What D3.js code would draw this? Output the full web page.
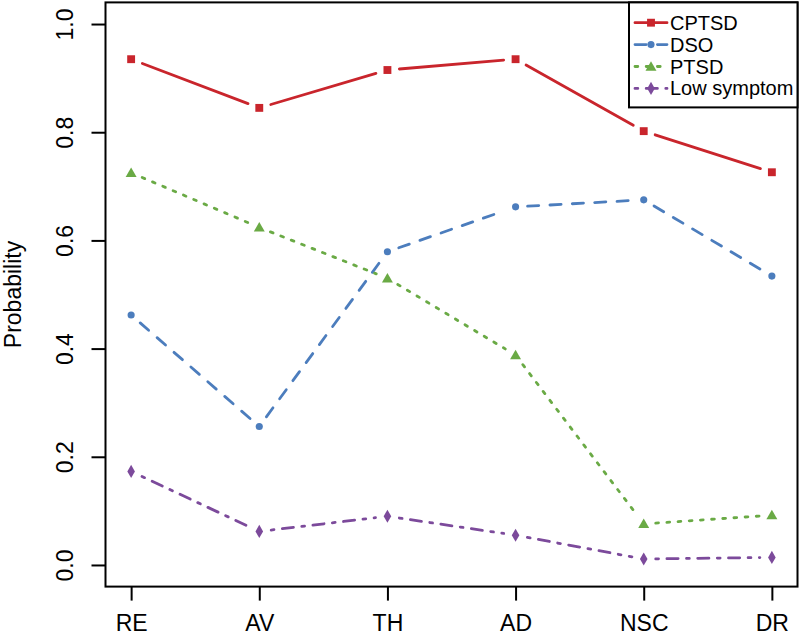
<!DOCTYPE html>
<html>
<head>
<meta charset="utf-8">
<title>Probability profile</title>
<script src="https://cdn.jsdelivr.net/npm/d3@7/dist/d3.min.js"></script>
<style>
  body { margin: 0; background: #fff; }
  svg { display: block; }
  text { font-family: "Liberation Sans", Arial, sans-serif; fill: #000; }
  .axis text { font-size: 23px; }
  .axis line { stroke: #000; stroke-width: 2; }
  .legend text { font-size: 20px; }
</style>
</head>
<body>
<svg id="chart" width="800" height="637"></svg>
<script>
// values
const categories = ["RE", "AV", "TH", "AD", "NSC", "DR"];
const cptsd      = [0.935, 0.845, 0.915, 0.935, 0.802, 0.726];
const dso        = [0.462, 0.256, 0.579, 0.662, 0.675, 0.534];
const ptsd       = [0.725, 0.624, 0.530, 0.388, 0.076, 0.092];
const lowSymptom = [0.173, 0.062, 0.090, 0.055, 0.011, 0.014];
const yTicks     = [0, 0.2, 0.4, 0.6, 0.8, 1.0];
const seriesNames = ["CPTSD", "DSO", "PTSD", "Low symptom"];

const lwd = 2.8;
const series = [
  { name: seriesNames[0], values: cptsd,      color: "#c9252c", dash: null,         shape: "square" },
  { name: seriesNames[1], values: dso,        color: "#4c7dbd", dash: [4, 4],       shape: "circle" },
  { name: seriesNames[2], values: ptsd,       color: "#6aaa45", dash: [1, 3],       shape: "triangle" },
  { name: seriesNames[3], values: lowSymptom, color: "#7c4a9b", dash: [1, 3, 4, 3], shape: "diamond" }
];

const svg = d3.select("#chart");
const plotLeft = 105.5, plotRight = 797.5, plotTop = 2.4, plotBottom = 586.6;

// R style: 4% padding on both axes
const x = d3.scaleLinear().domain([0.8, categories.length + 0.2]).range([plotLeft, plotRight]);
const y = d3.scaleLinear().domain([-0.04, 1.04]).range([plotBottom, plotTop]);

// axes
const yAxis = svg.append("g")
  .attr("class", "axis")
  .attr("transform", `translate(${plotLeft},0)`)
  .call(d3.axisLeft(y).tickValues(yTicks).tickFormat(d3.format(".1f")).tickSize(14));
yAxis.select(".domain").remove();
yAxis.selectAll(".tick text")
  .attr("x", null).attr("dy", null)
  .attr("text-anchor", "middle")
  .attr("transform", "translate(-33,0) rotate(-90)");

const xAxis = svg.append("g")
  .attr("class", "axis")
  .attr("transform", `translate(0,${plotBottom})`)
  .call(d3.axisBottom(x).tickValues(d3.range(1, categories.length + 1))
    .tickFormat(i => categories[i - 1]).tickSize(14));
xAxis.select(".domain").remove();
xAxis.selectAll(".tick text").attr("y", 44).attr("dy", null);

// plot box
svg.append("rect")
  .attr("x", plotLeft).attr("y", plotTop)
  .attr("width", plotRight - plotLeft).attr("height", plotBottom - plotTop)
  .attr("fill", "none").attr("stroke", "#000").attr("stroke-width", 2);

svg.append("text")
  .attr("transform", `translate(21,${(plotTop + plotBottom) / 2}) rotate(-90)`)
  .attr("text-anchor", "middle")
  .style("font-size", "23px")
  .text("Probability");

const symbols = {
  square:   d3.symbol().type(d3.symbolSquare).size(62),
  circle:   d3.symbol().type(d3.symbolCircle).size(40),
  triangle: d3.symbol().type(d3.symbolTriangle).size(52),
  diamond:  d3.symbol().type(d3.symbolDiamond).size(50)
};

const gap = 12; // type = "b": line leaves a gap around each point

series.forEach(s => {
  const g = svg.append("g");
  const pts = s.values.map((v, i) => [x(i + 1), y(v)]);
  for (let i = 0; i < pts.length - 1; i++) {
    const [x1, y1] = pts[i], [x2, y2] = pts[i + 1];
    const len = Math.hypot(x2 - x1, y2 - y1);
    const ux = (x2 - x1) / len, uy = (y2 - y1) / len;
    g.append("line")
      .attr("x1", x1 + ux * gap).attr("y1", y1 + uy * gap)
      .attr("x2", x2 - ux * gap).attr("y2", y2 - uy * gap)
      .attr("stroke", s.color)
      .attr("stroke-width", lwd)
      .attr("stroke-linecap", "round")
      .attr("stroke-dasharray", s.dash ? s.dash.map(d => d * lwd).join(",") : null);
  }
  g.selectAll("path")
    .data(pts)
    .join("path")
    .attr("transform", d => `translate(${d[0]},${d[1] + (s.shape === "triangle" ? 1 : 0)})`)
    .attr("d", symbols[s.shape]())
    .attr("fill", s.color);
});

// legend
const lgX = 629, lgW = plotRight - 629, lgH = 105;
const legend = svg.append("g").attr("class", "legend");
legend.append("rect")
  .attr("x", lgX).attr("y", plotTop).attr("width", lgW).attr("height", lgH)
  .attr("fill", "#fff").attr("stroke", "#000").attr("stroke-width", 2);

series.forEach((s, i) => {
  const cy = 22.7 + i * 21.9;
  legend.append("line")
    .attr("x1", 635).attr("x2", 667).attr("y1", cy).attr("y2", cy)
    .attr("stroke", s.color).attr("stroke-width", lwd)
    .attr("stroke-linecap", "round")
    .attr("stroke-dasharray", s.dash ? s.dash.map(d => d * lwd).join(",") : null);
  legend.append("path")
    .attr("transform", `translate(651,${cy + (s.shape === "triangle" ? 1 : 0)})`)
    .attr("d", symbols[s.shape]())
    .attr("fill", s.color);
  legend.append("text")
    .attr("x", 670).attr("y", cy + 7)
    .text(s.name);
});
</script>
</body>
</html>
